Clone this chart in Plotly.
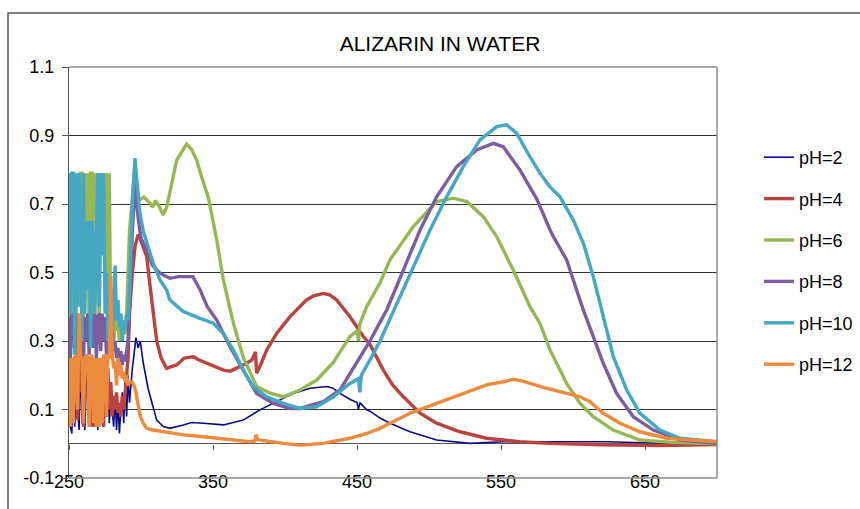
import plotly.graph_objects as go

# ---------------- data ----------------
NOISE_WL = list(range(250, 293))  # 250..292 nm, noisy high-absorbance region

PH2_NOISE = [0.20, 0.05, 0.03, 0.25, 0.05, 0.20, 0.10, 0.04, 0.25, 0.06,
             0.22, 0.04, 0.18, 0.25, 0.05, 0.22, 0.08, 0.25, 0.06, 0.20,
             0.04, 0.25, 0.10, 0.22, 0.05, 0.20, 0.08, 0.18, 0.06, 0.15,
             0.10, 0.05, 0.14, 0.04, 0.12, 0.03, 0.10, 0.15, 0.06, 0.18,
             0.08, 0.20, 0.12]
PH2_WL = [294, 296.5, 298, 299.5, 301.6, 305, 308.5, 310.9, 315.5, 320, 329.4, 335, 343.3,
          357.2, 371, 382.6, 394.2, 405.8, 417.4, 429, 433, 438.2, 445, 450, 451, 452,
          456.7, 459, 466, 472.9, 486.8, 505.3, 528.5, 551.6, 600, 623, 650, 700]
PH2_ABS = [0.22, 0.31, 0.28, 0.30, 0.235, 0.16, 0.108, 0.069, 0.05, 0.045, 0.055, 0.062, 0.06,
           0.055, 0.069, 0.099, 0.123, 0.147, 0.162, 0.167, 0.163, 0.147, 0.13, 0.12, 0.10, 0.12,
           0.099, 0.095, 0.075, 0.06, 0.035, 0.011, 0.001, 0.006, 0.006, 0.006, 0.003, 0.0]

PH4_NOISE = [0.25, 0.06, 0.25, 0.10, 0.25, 0.25, 0.07, 0.25, 0.15, 0.25,
             0.05, 0.25, 0.20, 0.25, 0.06, 0.25, 0.05, 0.25, 0.05, 0.25,
             0.12, 0.25, 0.06, 0.25, 0.05, 0.25, 0.08, 0.22, 0.10, 0.18,
             0.08, 0.14, 0.10, 0.15, 0.09, 0.12, 0.08, 0.14, 0.10, 0.15,
             0.18, 0.25, 0.38]
PH4_WL = [294, 296, 298, 299.3, 302, 304, 306.3, 308, 310.9, 314, 317.8, 321, 324.8, 330,
          336.3, 340, 345.6, 352, 357.2, 362, 366.4, 373.4, 377, 379.5, 380.3, 383, 387.3,
          394.2, 403.5, 415, 420, 426.6, 431, 435.9, 445.1, 454.4, 459, 463.7, 468.3, 475,
          482.2, 493.8, 505.3, 521.5, 540, 563, 584, 620, 660, 700]
PH4_ABS = [0.50, 0.58, 0.61, 0.60, 0.57, 0.546, 0.46, 0.40, 0.30, 0.25, 0.22, 0.225, 0.23, 0.25,
           0.254, 0.245, 0.235, 0.225, 0.215, 0.212, 0.22, 0.235, 0.245, 0.268, 0.206, 0.23, 0.274,
           0.322, 0.371, 0.42, 0.432, 0.439, 0.435, 0.42, 0.371, 0.313, 0.29, 0.254, 0.215, 0.17,
           0.137, 0.089, 0.06, 0.035, 0.016, 0.006, 0.001, -0.003, -0.005, -0.002]

PH6_NOISE = [0.30, 0.79, 0.35, 0.28, 0.79, 0.30, 0.79, 0.40, 0.79, 0.79,
             0.25, 0.79, 0.45, 0.79, 0.30, 0.79, 0.79, 0.35, 0.79, 0.55,
             0.79, 0.30, 0.79, 0.65, 0.79, 0.65, 0.79, 0.40, 0.79, 0.30,
             0.35, 0.28, 0.38, 0.33, 0.36, 0.30, 0.34, 0.31, 0.35, 0.32,
             0.38, 0.48, 0.62]
PH6_WL = [294, 295.5, 297, 299, 302, 306.3, 308, 310, 313, 315.3, 317.8, 321, 324.8, 328,
          331.7, 335, 338.7, 342, 346.7, 352.6, 357.2, 364.1, 371, 380.3, 389.6, 398.8, 410.4,
          422, 433.3, 445.1, 450, 451, 452, 456.7, 466, 472.9, 489.1, 505.3, 516.9, 526.2,
          537.7, 547, 558.5, 570.1, 577, 584, 586.3, 595.6, 604.9, 614.1, 628, 646.5, 669.4, 700]
PH6_ABS = [0.72, 0.80, 0.74, 0.712, 0.72, 0.703, 0.69, 0.71, 0.69, 0.668, 0.69, 0.75, 0.828, 0.85,
           0.875, 0.86, 0.828, 0.78, 0.72, 0.595, 0.478, 0.353, 0.253, 0.167, 0.148, 0.137, 0.157,
           0.186, 0.236, 0.313, 0.33, 0.30, 0.35, 0.40, 0.47, 0.537, 0.634, 0.707, 0.717, 0.707,
           0.663, 0.605, 0.507, 0.40, 0.352, 0.274, 0.254, 0.176, 0.118, 0.079, 0.04, 0.011, 0.004, 0.0]

PH8_NOISE = [0.37, 0.25, 0.38, 0.30, 0.37, 0.25, 0.38, 0.27, 0.37, 0.38,
             0.25, 0.37, 0.30, 0.38, 0.26, 0.37, 0.38, 0.28, 0.38, 0.25,
             0.37, 0.38, 0.27, 0.38, 0.30, 0.37, 0.26, 0.38, 0.30, 0.25,
             0.33, 0.27, 0.30, 0.25, 0.28, 0.24, 0.27, 0.23, 0.26, 0.24,
             0.27, 0.30, 0.40]
PH8_WL = [294, 296, 298, 300, 303.9, 308, 313.2, 320, 326, 331.7, 336, 341, 346, 352.6, 361.8,
          371, 380.3, 391.9, 403.5, 410.4, 426.6, 438.2, 449.8, 459, 466, 470.6, 482.2, 493.8,
          505.3, 519.2, 533.1, 544.7, 551.6, 563.2, 574.8, 577, 584, 586.3, 595.6, 600.2, 607.2,
          614.1, 621, 630.3, 641.9, 655.8, 674.3, 700]
PH8_ABS = [0.62, 0.76, 0.66, 0.60, 0.566, 0.52, 0.498, 0.483, 0.488, 0.488, 0.488, 0.45, 0.40,
           0.361, 0.283, 0.215, 0.147, 0.118, 0.103, 0.103, 0.123, 0.157, 0.235, 0.30, 0.355, 0.39,
           0.507, 0.624, 0.721, 0.809, 0.858, 0.877, 0.867, 0.799, 0.715, 0.692, 0.625, 0.605,
           0.537, 0.478, 0.39, 0.313, 0.235, 0.147, 0.079, 0.04, 0.011, 0.001]

PH10_NOISE = [0.79, 0.38, 0.79, 0.79, 0.26, 0.79, 0.40, 0.79, 0.65, 0.30,
              0.79, 0.38, 0.65, 0.45, 0.65, 0.28, 0.65, 0.60, 0.38, 0.65,
              0.79, 0.40, 0.79, 0.55, 0.79, 0.38, 0.50, 0.30, 0.38, 0.45,
              0.33, 0.40, 0.52, 0.36, 0.42, 0.34, 0.38, 0.30, 0.36, 0.33,
              0.38, 0.36, 0.45]
PH10_WL = [294, 295.8, 297, 299, 301.6, 305, 308.5, 313.2, 317.8, 320, 329.4, 341, 350.2, 357.2,
           364.1, 371, 378, 387.3, 398.8, 410.4, 422, 433.6, 445.1, 451, 452, 453, 456.7, 459,
           466, 477.6, 489.1, 500.7, 512.3, 523.8, 535.4, 547, 553.9, 560.9, 570.1, 577, 584,
           591, 600.2, 607.2, 614.1, 621, 628, 637.3, 646.5, 660.4, 674.3, 700]
PH10_ABS = [0.70, 0.834, 0.78, 0.68, 0.62, 0.57, 0.527, 0.478, 0.449, 0.42, 0.386, 0.366, 0.352,
            0.322, 0.274, 0.215, 0.167, 0.137, 0.118, 0.103, 0.108, 0.137, 0.176, 0.19, 0.15, 0.20,
            0.23, 0.245, 0.30, 0.41, 0.517, 0.624, 0.721, 0.809, 0.887, 0.926, 0.931, 0.906, 0.838,
            0.79, 0.75, 0.721, 0.653, 0.585, 0.488, 0.371, 0.254, 0.157, 0.089, 0.04, 0.016, 0.006]

PH12_NOISE = [0.25, 0.05, 0.25, 0.06, 0.25, 0.26, 0.10, 0.38, 0.25, 0.25,
              0.06, 0.25, 0.26, 0.25, 0.05, 0.25, 0.26, 0.06, 0.25, 0.05,
              0.25, 0.05, 0.25, 0.06, 0.26, 0.25, 0.08, 0.26, 0.25, 0.49,
              0.26, 0.22, 0.24, 0.17, 0.25, 0.20, 0.23, 0.19, 0.21, 0.18,
              0.20, 0.17, 0.18]
PH12_WL = [294, 296, 298, 299.5, 301.6, 304, 308.5, 316, 329.4, 340, 352.6, 365, 375.7, 379,
           379.9, 381, 382.6, 390, 398.8, 410.4, 426.6, 435, 445.1, 456.7, 466, 472.9, 486.8,
           505.3, 523.8, 540, 551.6, 558.5, 565, 570.1, 577, 581.7, 591, 604.9, 611.8, 621,
           632.6, 646.5, 665, 700]
PH12_ABS = [0.18, 0.16, 0.12, 0.08, 0.06, 0.045, 0.04, 0.035, 0.026, 0.022, 0.016, 0.012, 0.006,
            0.008, 0.026, 0.012, 0.011, 0.005, 0.001, -0.004, 0.001, 0.008, 0.016, 0.03, 0.045,
            0.06, 0.089, 0.118, 0.147, 0.172, 0.181, 0.188, 0.183, 0.176, 0.167, 0.162, 0.152,
            0.137, 0.123, 0.089, 0.06, 0.035, 0.016, 0.006]

SERIES_NAMES = ["pH=2", "pH=4", "pH=6", "pH=8", "pH=10", "pH=12"]
X_TICKS = [250, 350, 450, 550, 650]
Y_TICKS = [-0.1, 0.1, 0.3, 0.5, 0.7, 0.9, 1.1]

# ---------------- styling ----------------
COLORS = ["#0A0A8C", "#B8433F", "#97B755", "#7B5E9F", "#45A7C2", "#EC8A3E"]
WIDTHS = [1.6, 3.4, 3.4, 3.4, 3.4, 3.4]

series_data = [
    (PH2_NOISE, PH2_WL, PH2_ABS),
    (PH4_NOISE, PH4_WL, PH4_ABS),
    (PH6_NOISE, PH6_WL, PH6_ABS),
    (PH8_NOISE, PH8_WL, PH8_ABS),
    (PH10_NOISE, PH10_WL, PH10_ABS),
    (PH12_NOISE, PH12_WL, PH12_ABS),
]

fig = go.Figure()
for i, (name, (noise, wl, ab)) in enumerate(zip(SERIES_NAMES, series_data)):
    fig.add_trace(go.Scatter(
        x=NOISE_WL + wl, y=noise + ab, mode="lines", name=name,
        legendgroup=name,
        line=dict(color=COLORS[i], width=WIDTHS[i]),
        xaxis="x2" if i == len(SERIES_NAMES) - 1 else "x",
        yaxis="y",
    ))

L, R, T, B = 69, 717, 67, 478
W, H = 860, 509
pw, ph = R - L, B - T

fig.update_layout(
    width=W, height=H,
    margin=dict(l=L, r=W - R, t=T, b=H - B, pad=0, autoexpand=False),
    paper_bgcolor="white", plot_bgcolor="white",
    font=dict(family="Liberation Sans, Arial, sans-serif", size=18, color="black"),
    title=dict(text="ALIZARIN IN WATER", xref="container", x=440 / W, xanchor="center",
               yref="container", y=1 - 44 / H, yanchor="middle",
               font=dict(size=21, color="black")),
    showlegend=True,
    legend=dict(x=(759 - L) / pw, xanchor="left", y=(B - 139) / ph, yanchor="top",
                traceorder="grouped", tracegroupgap=15, bgcolor="rgba(0,0,0,0)",
                font=dict(size=18), itemwidth=30),
    xaxis=dict(range=[250, 700], tickvals=X_TICKS, ticktext=[str(v) for v in X_TICKS],
               ticks="", showgrid=False, zeroline=False, showline=False,
               ticklabelstandoff=-9, tickfont=dict(size=18)),
    xaxis2=dict(range=[250, 700], overlaying="x", anchor="free", position=0.1 / 1.2,
                tickvals=X_TICKS, ticks="outside", ticklen=5, tickcolor="#555",
                showticklabels=False, showgrid=False, zeroline=False, showline=False),
    yaxis=dict(range=[-0.1, 1.1], tickvals=Y_TICKS, ticktext=["-0.1", "0.1", "0.3", "0.5", "0.7", "0.9", "1.1"],
               ticks="outside", ticklen=6, tickcolor="#555", showline=True, linecolor="#555",
               linewidth=1, showgrid=True, gridcolor="#333", gridwidth=1,
               zeroline=True, zerolinecolor="#555", zerolinewidth=1,
               ticklabelstandoff=4, tickfont=dict(size=18)),
    shapes=[
        dict(type="rect", xref="paper", yref="paper", x0=(8 - L) / pw, x1=1.3,
             y0=-0.2, y1=(B - 13) / ph, line=dict(color="#555", width=1.5), layer="below"),
        dict(type="line", xref="paper", yref="paper", x0=0, x1=1, y0=1, y1=1,
             line=dict(color="#8c8c8c", width=1.5), layer="above"),
        dict(type="line", xref="paper", yref="paper", x0=1, x1=1, y0=0, y1=1,
             line=dict(color="#8c8c8c", width=1.5), layer="above"),
        dict(type="line", xref="paper", yref="paper", x0=0, x1=1, y0=0, y1=0,
             line=dict(color="#8c8c8c", width=1.5), layer="above"),
    ],
)

fig.write_html("out.html", config={"displayModeBar": False},
               post_script="document.body.style.margin='0';")
